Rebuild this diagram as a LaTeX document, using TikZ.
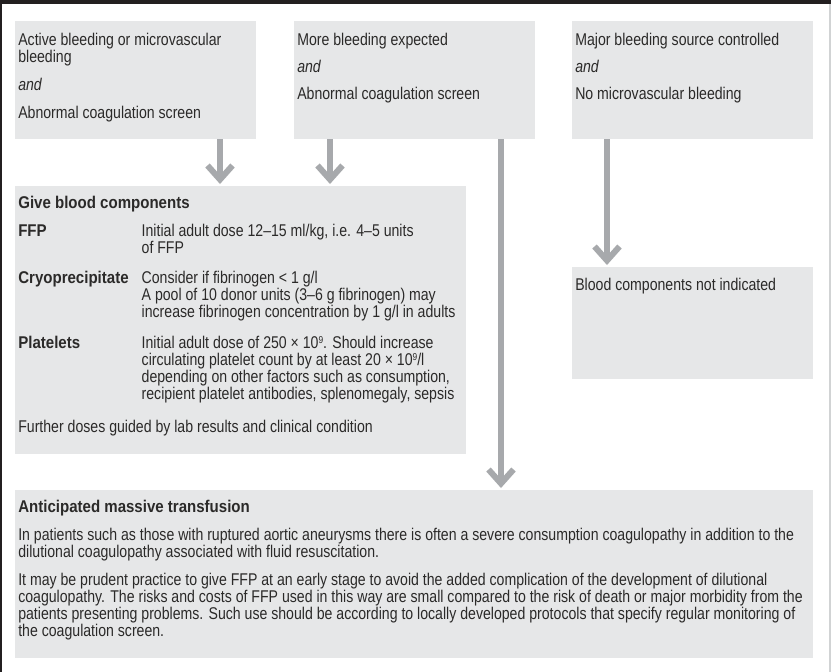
\documentclass[tikz,border=0pt]{standalone}
\usepackage{fontspec}
\setmainfont[FakeStretch=0.83,BoldFeatures={FakeStretch=0.885}]{Liberation Sans}
\usetikzlibrary{arrows.meta}
\definecolor{boxgray}{HTML}{E6E7E8}
\definecolor{arrowgray}{HTML}{A7A9AC}
\definecolor{ink}{HTML}{2B2A29}
\definecolor{frame}{HTML}{231F20}
\definecolor{edgegray}{HTML}{D1D3D4}
\newcommand{\supnine}{\raisebox{5pt}{\fontsize{10}{10}\selectfont 9}}
\begin{document}
\begin{tikzpicture}[x=1pt,y=-1pt,
  box/.style={fill=boxgray, inner sep=0pt, outer sep=0pt, anchor=north west},
  txt/.style={anchor=base west, inner sep=0pt, outer sep=0pt, text=ink, font=\fontsize{17}{17}\selectfont},
  btxt/.style={txt, font=\fontsize{17}{17}\selectfont\bfseries},
  itxt/.style={txt, font=\fontsize{17}{17}\selectfont\itshape},
  flow/.style={draw=arrowgray, line width=6pt, -{Straight Barb[length=14pt,width=25pt]}, shorten >=2pt}
]
\useasboundingbox (0,0) rectangle (831,672);
\fill[white] (0,0) rectangle (831,672);
% frame
\fill[frame] (0,0) rectangle (831,3.5);
\fill[frame] (0,0) rectangle (1.5,672);
\fill[edgegray] (829,3.5) rectangle (830.5,672);

% boxes
\node[box, minimum width=241pt, minimum height=118pt] (A) at (15,21) {};
\node[box, minimum width=241pt, minimum height=118pt] (B) at (294,21) {};
\node[box, minimum width=241pt, minimum height=118pt] (C) at (572,21) {};
\node[box, minimum width=451pt, minimum height=268pt] (D) at (15,186) {};
\node[box, minimum width=241pt, minimum height=112pt] (F) at (572,267) {};
\node[box, minimum width=798pt, minimum height=168pt] (E) at (15,490) {};

% arrows
\draw[flow] (A.south -| 220,0) -- (D.north -| 220,0);
\draw[flow] (B.south -| 330,0) -- (D.north -| 330,0);
\draw[flow] (B.south -| 501,0) -- (E.north -| 501,0);
\draw[flow] (C.south -| 607,0) -- (F.north -| 607,0);

% box A text
\node[txt] (a1) at (18.3,45) {Active bleeding or microvascular};
\node[txt] (a2) at (18.3,62) {bleeding};
\node[itxt] (a3) at (18.3,90) {and};
\node[txt] (a4) at (18.3,118) {Abnormal coagulation screen};
% box B text
\node[txt] (b1) at (297.3,45) {More bleeding expected};
\node[itxt] (b2) at (297.3,72) {and};
\node[txt] (b3) at (297.3,99) {Abnormal coagulation screen};
% box C text
\node[txt] (c1) at (575.3,45) {Major bleeding source controlled};
\node[itxt] (c2) at (575.3,72) {and};
\node[txt] (c3) at (575.3,99) {No microvascular bleeding};

% box D text
\node[btxt] (d0) at (18.3,208) {Give blood components};
\node[btxt] (d1) at (18.3,236) {FFP};
\node[txt] (d1a) at (141.7,236) {Initial adult dose 12–15 ml/kg, i.e. 4–5 units};
\node[txt] (d1b) at (141.7,253) {of FFP};
\node[btxt] (d2) at (18.3,283) {Cryoprecipitate};
\node[txt] (d2a) at (141.7,283) {Consider if fibrinogen < 1 g/l};
\node[txt] (d2b) at (141.7,300) {A pool of 10 donor units (3–6 g fibrinogen) may};
\node[txt] (d2c) at (141.7,317) {increase fibrinogen concentration by 1 g/l in adults};
\node[btxt] (d3) at (18.3,348) {Platelets};
\node[txt] (d3a) at (141.7,348) {Initial adult dose of 250 × 10\supnine. Should increase};
\node[txt] (d3b) at (141.7,365) {circulating platelet count by at least 20 × 10\supnine/l};
\node[txt] (d3c) at (141.7,382) {depending on other factors such as consumption,};
\node[txt] (d3d) at (141.7,399) {recipient platelet antibodies, splenomegaly, sepsis};
\node[txt] (d4) at (18.3,432) {Further doses guided by lab results and clinical condition};

% box F text
\node[txt] (f1) at (575.3,290) {Blood components not indicated};

% box E text
\node[btxt] (e0) at (18.3,512) {Anticipated massive transfusion};
\node[txt] (e1) at (18.3,540) {In patients such as those with ruptured aortic aneurysms there is often a severe consumption coagulopathy in addition to the};
\node[txt] (e2) at (18.3,557) {dilutional coagulopathy associated with fluid resuscitation.};
\node[txt] (e3) at (18.3,585) {It may be prudent practice to give FFP at an early stage to avoid the added complication of the development of dilutional};
\node[txt] (e4) at (18.3,602) {coagulopathy. The risks and costs of FFP used in this way are small compared to the risk of death or major morbidity from the};
\node[txt] (e5) at (18.3,619) {patients presenting problems. Such use should be according to locally developed protocols that specify regular monitoring of};
\node[txt] (e6) at (18.3,636) {the coagulation screen.};
\end{tikzpicture}
\end{document}
